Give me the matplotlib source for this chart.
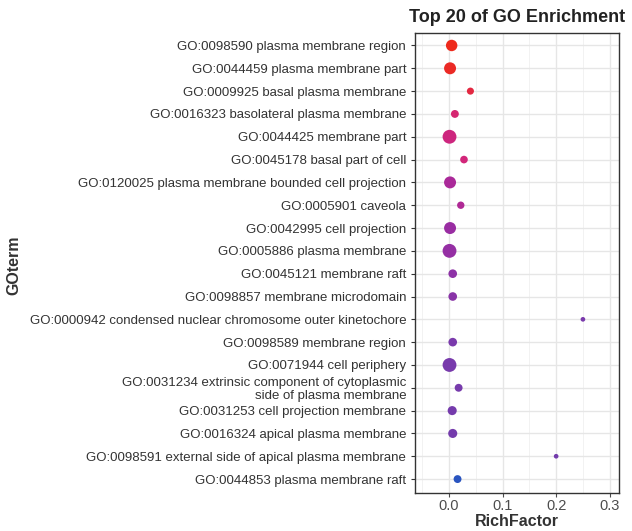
import numpy as np
import matplotlib
matplotlib.use("Agg")
import matplotlib.pyplot as plt
from matplotlib.colors import LinearSegmentedColormap

plt.rcParams['font.family'] = ['Liberation Sans', 'DejaVu Sans']

terms = [
    "GO:0098590 plasma membrane region",
    "GO:0044459 plasma membrane part",
    "GO:0009925 basal plasma membrane",
    "GO:0016323 basolateral plasma membrane",
    "GO:0044425 membrane part",
    "GO:0045178 basal part of cell",
    "GO:0120025 plasma membrane bounded cell projection",
    "GO:0005901 caveola",
    "GO:0042995 cell projection",
    "GO:0005886 plasma membrane",
    "GO:0045121 membrane raft",
    "GO:0098857 membrane microdomain",
    "GO:0000942 condensed nuclear chromosome outer kinetochore",
    "GO:0098589 membrane region",
    "GO:0071944 cell periphery",
    "GO:0031234 extrinsic component of cytoplasmic\nside of plasma membrane",
    "GO:0031253 cell projection membrane",
    "GO:0016324 apical plasma membrane",
    "GO:0098591 external side of apical plasma membrane",
    "GO:0044853 plasma membrane raft",
]
rich = [0.005, 0.002, 0.040, 0.011, 0.001, 0.028, 0.002, 0.022, 0.002, 0.001,
        0.007, 0.007, 0.250, 0.007, 0.001, 0.018, 0.006, 0.007, 0.200, 0.016]
count = [30, 33, 10, 13, 45, 12, 33, 11, 33, 45,
         16, 16, 3, 16, 45, 13, 18, 18, 3, 13]
# colour scale position, 0 = red (top), 1 = blue (bottom)
pval = [0.00, 0.02, 0.08, 0.18, 0.22, 0.20, 0.36, 0.34, 0.44, 0.46,
        0.50, 0.52, 0.60, 0.60, 0.62, 0.64, 0.66, 0.67, 0.68, 1.00]

cmap = LinearSegmentedColormap.from_list(
    "rb", ["#ee2a1c", "#d2267a", "#a02aa0", "#7a3aac", "#6a3eac", "#2a55c0"])

fig = plt.figure(figsize=(6.32, 5.31), dpi=100)
ax = fig.add_axes([0.657, 0.072, 0.323, 0.866])

y = np.arange(len(terms))[::-1]
ax.scatter(rich, y, s=5 + np.array(count) * 2.1, c=pval, cmap=cmap, vmin=0, vmax=1,
           edgecolors='none', zorder=3)

ax.set_xlim(-0.063, 0.318)
ax.set_ylim(-0.6, len(terms) - 0.45)
ax.set_xticks([0.0, 0.1, 0.2, 0.3])
ax.set_xticks([-0.05, 0.05, 0.15, 0.25], minor=True)
ax.set_yticks(y)
ax.set_yticklabels(terms, fontsize=9.5, color='#333333', linespacing=1.05)
ax.tick_params(axis='x', labelsize=10.5, colors='#4d4d4d', length=3, pad=1.5)
ax.tick_params(axis='y', length=3, color='#333333')
ax.tick_params(axis='x', which='minor', length=0)
ax.grid(True, which='major', color='#e6e6e6', lw=1.0, zorder=0)
ax.grid(True, which='minor', axis='x', color='#f0f0f0', lw=0.6, zorder=0)
ax.set_axisbelow(True)
for sp in ax.spines.values():
    sp.set_color('#333333')
    sp.set_linewidth(1.0)

ax.set_xlabel("RichFactor", fontsize=11.5, fontweight='bold', color='#333333', labelpad=1)
fig.text(0.022, 0.50, "GOterm", rotation=90, fontsize=11.5, fontweight='bold',
         color='#333333', ha='center', va='center')
ax.set_title("Top 20 of GO Enrichment", fontsize=13, fontweight='bold',
             color='#222222', pad=8)

fig.savefig("out.png", dpi=100)
